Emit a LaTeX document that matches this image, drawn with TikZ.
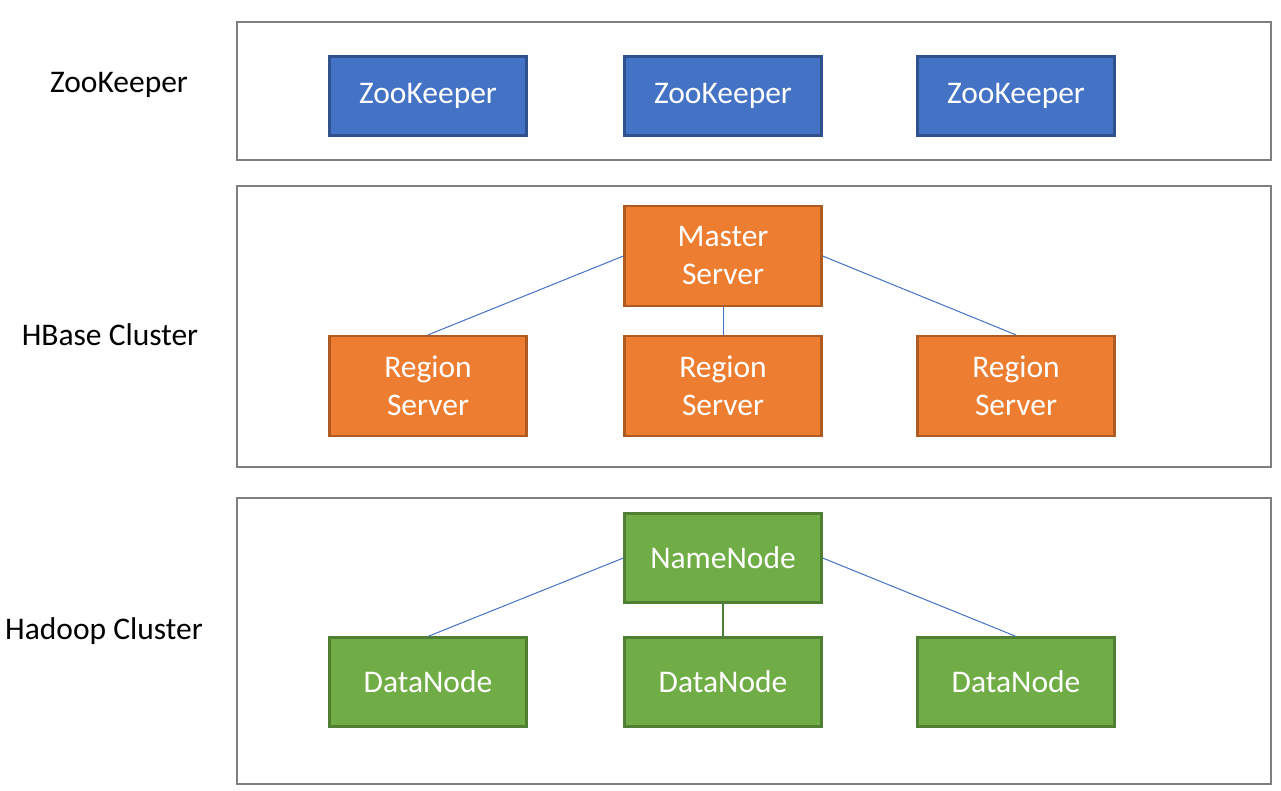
\documentclass[tikz,border=0pt]{standalone}
\usepackage{fontspec}
\setmainfont{Carlito}
\definecolor{zkfill}{HTML}{4472C4}
\definecolor{zkdraw}{HTML}{2F528F}
\definecolor{orfill}{HTML}{ED7D31}
\definecolor{ordraw}{HTML}{AE5A21}
\definecolor{grfill}{HTML}{70AD47}
\definecolor{grdraw}{HTML}{507E32}
\definecolor{framegray}{HTML}{7F7F7F}
\definecolor{linkblue}{HTML}{4472C4}
\begin{document}
\begin{tikzpicture}[x=1pt,y=-1pt,
  frame/.style={draw=framegray,line width=2.5pt,fill=white},
  box/.style={rectangle,minimum width=197pt,inner sep=0pt,line width=2.2pt,text=white,font=\fontsize{31.5}{38}\selectfont,align=center},
  zk/.style={box,fill=zkfill,draw=zkdraw,minimum height=79pt},
  hb/.style={box,fill=orfill,draw=ordraw,minimum height=100pt},
  hd/.style={box,fill=grfill,draw=grdraw,minimum height=89pt},
  lab/.style={font=\fontsize{31.5}{38}\selectfont,text=black},
  link/.style={draw=linkblue,line width=1pt},
  glink/.style={draw=grdraw,line width=2pt}]
\useasboundingbox (0,0) rectangle (1281,791);
\draw[frame] (237,22) rectangle (1271,160);
\draw[frame] (237,186) rectangle (1271,467);
\draw[frame] (237,498) rectangle (1271,784);
\node[lab] (lzk) at (119,85) {ZooKeeper};
\node[lab] (lhb) at (110,335) {HBase Cluster};
\node[lab] (lhd) at (104,631) {Hadoop Cluster};
\node[zk] (z1) at (428,96) {ZooKeeper};
\node[zk] (z2) at (723,96) {ZooKeeper};
\node[zk] (z3) at (1016,96) {ZooKeeper};
\node[hb] (m) at (723,256) {Master\\Server};
\node[hb] (r1) at (428,386) {Region\\Server};
\node[hb] (r2) at (723,386) {Region\\Server};
\node[hb] (r3) at (1016,386) {Region\\Server};
\node[hd] (n) at (723,558) {NameNode};
\node[hd] (d1) at (428,682) {DataNode};
\node[hd] (d2) at (723,682) {DataNode};
\node[hd] (d3) at (1016,682) {DataNode};
\draw[link] (m.west) -- (r1.north);
\draw[link] (m.east) -- (r3.north);
\draw[link] (m.south) -- (r2.north);
\draw[link] (n.west) -- (d1.north);
\draw[link] (n.east) -- (d3.north);
\draw[glink] (n.south) -- (d2.north);
\end{tikzpicture}
\end{document}
